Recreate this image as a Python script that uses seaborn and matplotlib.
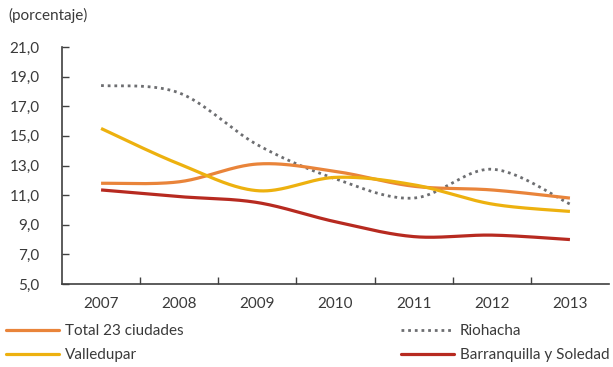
import numpy as np
import pandas as pd
import matplotlib
matplotlib.use("Agg")
import matplotlib.pyplot as plt
import seaborn as sns
from matplotlib.lines import Line2D
from matplotlib.ticker import FuncFormatter, FixedLocator

years = ["2007", "2008", "2009", "2010", "2011", "2012", "2013"]
total_23 = [11.8, 11.9, 13.1, 12.6, 11.6, 11.35, 10.8]
riohacha = [18.4, 17.9, 14.4, 12.1, 10.8, 12.75, 10.4]
valledupar = [15.5, 13.1, 11.3, 12.2, 11.7, 10.4, 9.9]
barranquilla = [11.35, 10.9, 10.5, 9.2, 8.2, 8.3, 8.0]

series_names = ["Total 23 ciudades", "Valledupar", "Riohacha", "Barranquilla y Soledad"]
series_values = [total_23, valledupar, riohacha, barranquilla]
colors = {"Total 23 ciudades": "#E9843A",
          "Valledupar": "#EDB10F",
          "Riohacha": "#6D6E71",
          "Barranquilla y Soledad": "#B72A20"}

sns.set_theme(style="white")
plt.rcParams["font.family"] = ["Lato", "DejaVu Sans"]
text_color = "#3a3a3a"
font_size = 11


def smooth(xs, ys, steps=40):
    """Cubic Bezier smoothing with Catmull-Rom style control points."""
    xs = np.asarray(xs, float)
    ys = np.asarray(ys, float)
    px = np.concatenate([[xs[0]], xs, [xs[-1]]])
    py = np.concatenate([[ys[0]], ys, [ys[-1]]])
    out_x, out_y = [], []
    t = np.linspace(0, 1, steps)
    for i in range(1, len(px) - 2):
        p0 = np.array([px[i], py[i]])
        p3 = np.array([px[i + 1], py[i + 1]])
        p1 = p0 + (np.array([px[i + 1], py[i + 1]]) - np.array([px[i - 1], py[i - 1]])) / 6
        p2 = p3 - (np.array([px[i + 2], py[i + 2]]) - np.array([px[i], py[i]])) / 6
        b = ((1 - t) ** 3)[:, None] * p0 + (3 * (1 - t) ** 2 * t)[:, None] * p1 \
            + (3 * (1 - t) * t ** 2)[:, None] * p2 + (t ** 3)[:, None] * p3
        out_x.extend(b[:, 0])
        out_y.extend(b[:, 1])
    return np.array(out_x), np.array(out_y)


frames = []
for name, vals in zip(series_names, series_values):
    sx, sy = smooth(np.arange(len(years)), vals)
    frames.append(pd.DataFrame({"x": sx, "y": sy, "serie": name}))
df = pd.concat(frames, ignore_index=True)

fig = plt.figure(figsize=(6.13, 3.67), dpi=100)
ax = fig.add_axes([62 / 613, 1 - 284 / 367, (609 - 62) / 613, (284 - 47) / 367])

draw_order = ["Riohacha", "Total 23 ciudades", "Valledupar", "Barranquilla y Soledad"]
for name in draw_order:
    sub = df[df["serie"] == name]
    if name == "Riohacha":
        sns.lineplot(data=sub, x="x", y="y", ax=ax, sort=False, estimator=None,
                     color=colors[name], linewidth=2.0, linestyle=(0, (1, 1.4)))
    else:
        sns.lineplot(data=sub, x="x", y="y", ax=ax, sort=False, estimator=None,
                     color=colors[name], linewidth=2.3, solid_capstyle="butt")

ax.set_xlim(-0.5, len(years) - 0.5)
ax.set_ylim(5, 21)
ax.set_yticks(np.arange(5, 21.1, 2))
ax.yaxis.set_major_formatter(FuncFormatter(lambda v, p: f"{v:.1f}".replace(".", ",")))
ax.set_xticks(range(len(years)))
ax.set_xticklabels(years)
ax.xaxis.set_minor_locator(FixedLocator(np.arange(0.5, len(years) - 0.5, 1)))
ax.tick_params(axis="x", which="major", length=0, pad=9, labelsize=font_size, labelcolor=text_color)
ax.tick_params(axis="x", which="minor", length=5, direction="in", width=1, color="#404040", bottom=True)
ax.tick_params(axis="y", which="major", length=5, direction="in", width=1, color="#404040",
               left=True, pad=16, labelsize=font_size, labelcolor=text_color)
ax.set_xlabel("")
ax.set_ylabel("")
for side in ["top", "right"]:
    ax.spines[side].set_visible(False)
for side in ["left", "bottom"]:
    ax.spines[side].set_color("#404040")
    ax.spines[side].set_linewidth(1.2)
ax.grid(False)

fig.text(8 / 613, 1 - 15 / 367, "(porcentaje)", fontsize=font_size, color=text_color,
         ha="left", va="center")


def handle(name):
    if name == "Riohacha":
        return Line2D([], [], color=colors[name], linewidth=2.0, linestyle=(0, (1, 1.4)))
    return Line2D([], [], color=colors[name], linewidth=2.3)


leg_kw = dict(frameon=False, fontsize=font_size, handlelength=3.5, handletextpad=0.35,
              labelspacing=0.65, loc="upper left", borderaxespad=0, borderpad=0,
              labelcolor=text_color)
fig.legend([handle(n) for n in series_names[:2]], series_names[:2],
           bbox_to_anchor=(6 / 613, 1 - 324 / 367), **leg_kw)
fig.legend([handle(n) for n in series_names[2:]], series_names[2:],
           bbox_to_anchor=(401 / 613, 1 - 324 / 367), **leg_kw)

fig.savefig("out.png", dpi=100, facecolor="white")
